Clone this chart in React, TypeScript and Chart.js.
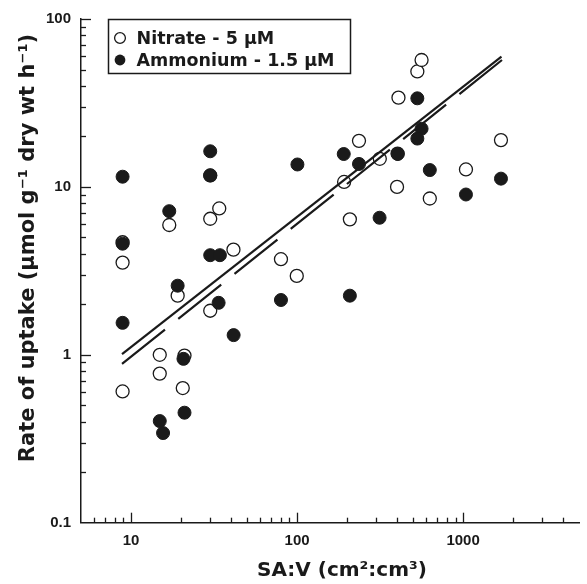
import React, { useEffect, useRef } from "react";
import { Chart, registerables } from "chart.js";

Chart.register(...registerables);

// ---- data ----
const nitrateX = [8.9, 8.9, 8.9, 17.0, 19.1, 14.9, 14.9, 21.0, 20.5, 30, 30, 34, 41.4, 30, 80, 99.6, 208, 192, 236, 315, 408, 400, 403, 530, 562, 630, 1040, 1690];
const nitrateY = [3.54, 0.605, 4.68, 5.93, 2.25, 1.0, 0.773, 0.99, 0.634, 11.7, 6.46, 7.44, 4.23, 1.83, 3.71, 2.95, 6.41, 10.7, 18.8, 14.7, 34.0, 10.0, 15.8, 48.7, 57.0, 8.53, 12.7, 19.0];
const ammoniumX = [8.9, 8.9, 8.9, 17.0, 19.1, 30, 30, 30, 34.3, 33.7, 41.5, 20.7, 21.0, 14.9, 15.6, 80, 100.5, 208, 191, 236, 314, 404, 530, 562, 530, 630, 1040, 1690];
const ammoniumY = [11.5, 4.59, 1.55, 7.17, 2.58, 16.3, 11.7, 3.92, 3.92, 2.04, 1.31, 0.946, 0.452, 0.403, 0.342, 2.12, 13.6, 2.25, 15.7, 13.7, 6.55, 15.7, 33.7, 22.2, 19.4, 12.6, 9.01, 11.2];

const solidFitX = [8.83, 1702];
const solidFitY = [1.01, 59.7];
const dashedFitX = [8.83, 1714];
const dashedFitY = [0.883, 57.0];

const xTickLabels = [10, 100, 1000];
const yTickLabels = [0.1, 1, 10, 100];

const seriesLabels = ["Nitrate - 5 \u00b5M", "Ammonium - 1.5 \u00b5M"];
const xTitle = "SA:V (cm\u00b2:cm\u00b3)";
const yTitle = "Rate of uptake (\u00b5mol g\u207b\u00b9 dry wt h\u207b\u00b9)";

const INK = "#1a1a1a";

function pts(xs: number[], ys: number[]) {
  return xs.map((x, i) => ({ x, y: ys[i] }));
}

const innerTicks = {
  id: "innerTicks",
  afterDraw(chart: any) {
    const { ctx, chartArea, scales } = chart;
    const xs = scales.x;
    const ys = scales.y;
    ctx.save();
    ctx.strokeStyle = INK;
    ctx.lineWidth = 1.3;
    const gen = (min: number, max: number) => {
      const out: { v: number; major: boolean }[] = [];
      for (let d = Math.floor(Math.log10(min)); d <= Math.ceil(Math.log10(max)); d++) {
        for (let k = 1; k <= 9; k++) {
          const v = k * Math.pow(10, d);
          if (v > min * 1.0001 && v <= max * 1.0001) out.push({ v, major: k === 1 });
        }
      }
      return out;
    };
    for (const t of gen(xs.min, xs.max)) {
      const px = Math.round(xs.getPixelForValue(t.v)) + 0.5;
      if (px > chartArea.right - 1) continue;
      ctx.beginPath();
      ctx.moveTo(px, chartArea.bottom);
      ctx.lineTo(px, chartArea.bottom - (t.major ? 10 : 5));
      ctx.stroke();
    }
    for (const t of gen(ys.min, ys.max)) {
      const py = Math.round(ys.getPixelForValue(t.v)) + 0.5;
      ctx.beginPath();
      ctx.moveTo(chartArea.left, py);
      ctx.lineTo(chartArea.left + (t.major ? 10 : 5), py);
      ctx.stroke();
    }
    ctx.restore();
  },
};

const titlesAndLegend = {
  id: "titlesAndLegend",
  afterDraw(chart: any) {
    const { ctx } = chart;
    ctx.save();
    ctx.fillStyle = INK;
    // axis titles
    ctx.font = "bold 20px 'DejaVu Sans'";
    ctx.textAlign = "center";
    ctx.textBaseline = "middle";
    ctx.fillText(xTitle, 342, 571);
    ctx.save();
    ctx.translate(29, 248);
    ctx.rotate(-Math.PI / 2);
    ctx.font = "bold 21px 'DejaVu Sans'";
    ctx.fillText(yTitle, 0, 0);
    ctx.restore();

    // legend box
    ctx.strokeStyle = INK;
    ctx.lineWidth = 1.5;
    ctx.strokeRect(108.5, 19.5, 242, 54);
    ctx.font = "bold 17.5px 'DejaVu Sans'";
    ctx.textAlign = "left";
    ctx.textBaseline = "middle";
    const rows = [38, 60];
    chart.data.datasets.slice(0, 2).forEach((ds: any, i: number) => {
      ctx.beginPath();
      ctx.arc(120, rows[i], 5.4, 0, Math.PI * 2);
      if (i === 0) {
        ctx.fillStyle = "#ffffff";
        ctx.fill();
        ctx.lineWidth = 1.3;
        ctx.stroke();
      } else {
        ctx.fillStyle = INK;
        ctx.fill();
      }
      ctx.fillStyle = INK;
      ctx.fillText(ds.label, 136.5, rows[i] + 1);
    });
    ctx.restore();
  },
};

export default function App() {
  const ref = useRef<HTMLCanvasElement | null>(null);
  useEffect(() => {
    if (!ref.current) return;
    const tickFont = { family: "'Liberation Sans', Arial, sans-serif", weight: "bold" as const, size: 15 };
    const chart = new Chart(ref.current, {
      type: "scatter",
      data: {
        datasets: [
          {
            label: seriesLabels[0],
            data: pts(nitrateX, nitrateY),
            pointRadius: 6.5,
            pointBorderWidth: 1.3,
            pointBackgroundColor: "#ffffff",
            pointBorderColor: INK,
            order: 3,
          },
          {
            label: seriesLabels[1],
            data: pts(ammoniumX, ammoniumY),
            pointRadius: 6.5,
            pointBorderWidth: 1,
            pointBackgroundColor: INK,
            pointBorderColor: INK,
            order: 2,
          },
          {
            type: "line",
            label: "fit nitrate",
            data: pts(solidFitX, solidFitY),
            borderColor: INK,
            borderWidth: 2.2,
            pointRadius: 0,
            fill: false,
            order: 1,
          } as any,
          {
            type: "line",
            label: "fit ammonium",
            data: pts(dashedFitX, dashedFitY),
            borderColor: INK,
            borderWidth: 2.2,
            borderDash: [55, 17],
            pointRadius: 0,
            fill: false,
            order: 0,
          } as any,
        ],
      },
      options: {
        responsive: false,
        animation: false,
        layout: { padding: { top: 17.2, right: 0, left: 0, bottom: 0 } },
        plugins: { legend: { display: false }, tooltip: { enabled: false } },
        scales: {
          x: {
            type: "logarithmic",
            position: "bottom",
            min: 5,
            max: 5000,
            grid: { display: false, drawTicks: false },
            border: { display: true, color: INK, width: 1.5 },
            ticks: {
              font: tickFont,
              color: INK,
              padding: 9,
              autoSkip: false,
              maxRotation: 0,
              callback: (v: any) => String(v),
            },
            afterBuildTicks: (s: any) => {
              s.ticks = xTickLabels.map((v) => ({ value: v }));
            },
            afterFit: (s: any) => {
              s.height = 61.3;
            },
          },
          y: {
            type: "logarithmic",
            position: "left",
            min: 0.1,
            max: 100,
            grid: { display: false, drawTicks: false },
            border: { display: true, color: INK, width: 1.5 },
            ticks: {
              font: tickFont,
              color: INK,
              padding: 10,
              autoSkip: false,
              callback: (v: any) => String(v),
            },
            afterBuildTicks: (s: any) => {
              s.ticks = yTickLabels.map((v) => ({ value: v }));
            },
            afterFit: (s: any) => {
              s.width = 81;
            },
          },
        },
      },
      plugins: [innerTicks, titlesAndLegend],
    });
    return () => chart.destroy();
  }, []);
  return (
    <div style={{ position: "fixed", left: 0, top: 0, width: 587, height: 584, background: "#ffffff" }}>
      <canvas ref={ref} width={587} height={584} style={{ display: "block" }} />
    </div>
  );
}
